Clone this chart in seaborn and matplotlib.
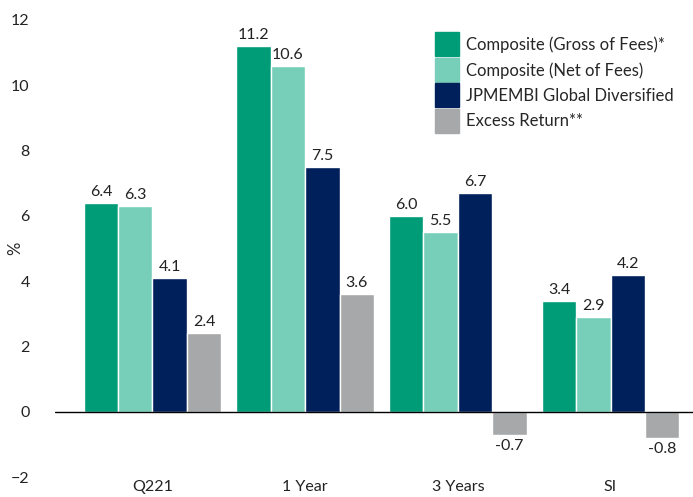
import pandas as pd
import seaborn as sns
import matplotlib.pyplot as plt
from matplotlib.lines import Line2D

categories = ['Q221', '1 Year', '3 Years', 'SI']
series = ['Composite (Gross of Fees)*', 'Composite (Net of Fees)',
          'JPMEMBI Global Diversified', 'Excess Return**']
gross = [6.4, 11.2, 6.0, 3.4]
net = [6.3, 10.6, 5.5, 2.9]
bench = [4.1, 7.5, 6.7, 4.2]
excess = [2.4, 3.6, -0.7, -0.8]
colors = ['#009B77', '#78CFB9', '#00205B', '#A7A8AA']

rows = []
for s, vals in zip(series, [gross, net, bench, excess]):
    for c, v in zip(categories, vals):
        rows.append({'period': c, 'series': s, 'value': v})
df = pd.DataFrame(rows)

sns.set_style('white')
plt.rcParams['font.family'] = ['Lato', 'DejaVu Sans']
plt.rcParams['font.size'] = 11.5

fig = plt.figure(figsize=(6.93, 4.97), dpi=100)
ax = fig.add_axes([0.079, 0.04, 0.921, 0.92])
sns.barplot(data=df, x='period', y='value', hue='series', palette=colors,
            width=0.9, ax=ax, legend=False, saturation=1)

for cont in ax.containers:
    for bar in cont:
        h = bar.get_height()
        x = bar.get_x() + bar.get_width() / 2
        if h >= 0:
            ax.text(x, h + 0.12, f'{h:.1f}', ha='center', va='bottom', fontsize=11.5, color='#222222')
        else:
            ax.text(x, h - 0.12, f'{h:.1f}', ha='center', va='top', fontsize=11.5, color='#222222')

ax.axhline(0, color='black', lw=1)
ax.set_ylim(-2, 12)
ax.set_xlim(-0.64, 3.54)
ax.set_yticks(range(-2, 13, 2))
ax.set_yticklabels([str(v).replace('-', '−') for v in range(-2, 13, 2)])
ax.set_xlabel('')
ax.set_ylabel('%', fontsize=12)
ax.yaxis.set_label_coords(-0.05, 0.5)
for sp in ax.spines.values():
    sp.set_visible(False)
ax.tick_params(axis='both', length=0, labelsize=11.5, colors='#222222')
ax.tick_params(axis='y', pad=18)
ax.tick_params(axis='x', pad=2)

handles = [Line2D([0], [0], marker='s', color='none', markerfacecolor=c,
                  markeredgecolor=c, markersize=17) for c in colors]
ax.legend(handles, series, loc='upper right', bbox_to_anchor=(0.985, 0.985),
          frameon=False, fontsize=12, handlelength=1.1, handletextpad=0.6,
          labelspacing=0.55, borderaxespad=0.2)

fig.savefig('out.png', dpi=100)
